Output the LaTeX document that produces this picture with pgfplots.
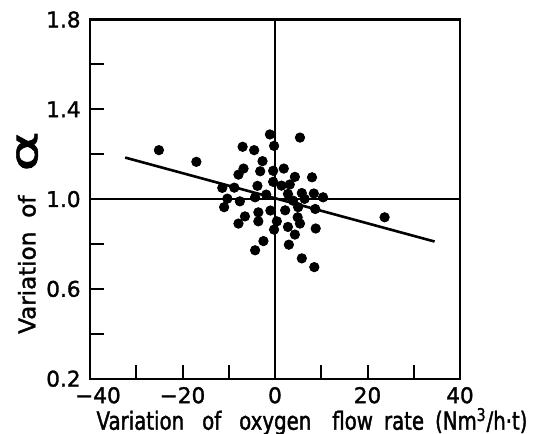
\documentclass[border=0pt]{standalone}
\usepackage{fontspec}
\setmainfont{DejaVu Sans}[FakeBold=1.5]
\newfontfamily\narrowfont{DejaVu Sans}[FakeStretch=0.79,FakeBold=1.5]
\usepackage{pgfplots}
\pgfplotsset{compat=1.18}
\begin{document}
\begin{tikzpicture}
\begin{axis}[
  scale only axis, width=185pt, height=179.6pt,
  xmin=-40, xmax=40, ymin=0.2, ymax=1.8,
  axis line style={line width=1.2pt},
  tick align=inside, xtick pos=bottom, ytick pos=left,
  major tick length=7pt,
  tick style={line width=1pt, black},
  xtick={-40,-30,-20,-10,0,10,20,30,40},
  xticklabels={\hspace*{8pt}−40,,−20,,0,,20,,40},
  ytick={0.2,0.4,0.6,0.8,1.0,1.2,1.4,1.6,1.8},
  yticklabels={0.2,,0.6,,1.0,,1.4,,1.8},
  ticklabel style={font=\fontsize{10.8}{12}\selectfont},
  xticklabel style={inner sep=0pt, yshift=-4pt},
  yticklabel style={inner sep=0pt, xshift=-4.5pt},
  xlabel={\narrowfont Variation\hspace{9pt}of\hspace{9pt}oxygen\hspace{10.5pt}flow\hspace{5.5pt}rate\hspace{5.5pt}(Nm\textsuperscript{3}/h·t)},
  ylabel={Variation\hspace{7pt}of\hspace{12pt}\raisebox{-1pt}{\scalebox{1.7}[1.05]{\fontsize{18}{18}\selectfont α}}},
  xlabel style={at={(axis description cs:0.6,-0.142)}, anchor=base, font=\fontsize{12.5}{14}\selectfont, inner sep=0pt},
  ylabel style={at={(axis description cs:-0.17,0.407)}, anchor=center, font=\fontsize{11.5}{13}\selectfont, inner sep=0pt},
  clip=false,
]
\addplot[black, line width=1pt] coordinates {(-40,1.0) (40,1.0)};
\addplot[black, line width=1pt] coordinates {(0,0.2) (0,1.8)};
\addplot[black, line width=1.3pt] coordinates {(-32.4,1.185) (34.5,0.811)};
\addplot[only marks, mark=*, mark size=2.35pt, black] coordinates {
(-25.1,1.218) (-17.0,1.166) (-1.1,1.288) (5.4,1.274) (-7.0,1.233)
(-4.5,1.218) (-0.2,1.237) (-2.7,1.169) (-6.8,1.136) (-7.9,1.109)
(-3.2,1.124) (-0.4,1.126) (1.9,1.136) (4.3,1.099) (8.0,1.097)
(-0.4,1.077) (1.4,1.060) (3.2,1.065) (-11.4,1.050) (-8.8,1.051)
(-3.8,1.059) (-1.9,1.020) (2.8,1.023) (5.8,1.027) (8.4,1.025)
(10.4,1.008) (6.4,1.001) (-4.3,1.008) (-10.3,1.002) (-7.6,0.990)
(3.9,0.993) (5.0,0.964) (-11.0,0.964) (8.7,0.956) (-1.0,0.949)
(2.2,0.950) (-3.6,0.941) (-6.5,0.923) (4.9,0.919) (23.7,0.919)
(-3.6,0.901) (0.4,0.901) (-7.9,0.891) (5.4,0.891) (2.8,0.876)
(8.8,0.869) (-0.2,0.864) (4.3,0.842) (-2.5,0.813) (3.0,0.797)
(-4.3,0.772) (5.8,0.736) (8.5,0.697)
};
\end{axis}
\pgfresetboundingbox
\path[use as bounding box] (current axis.south west) ++(-45pt,-27.15pt) rectangle ++(269.5pt,216.5pt);
\end{tikzpicture}
\end{document}
